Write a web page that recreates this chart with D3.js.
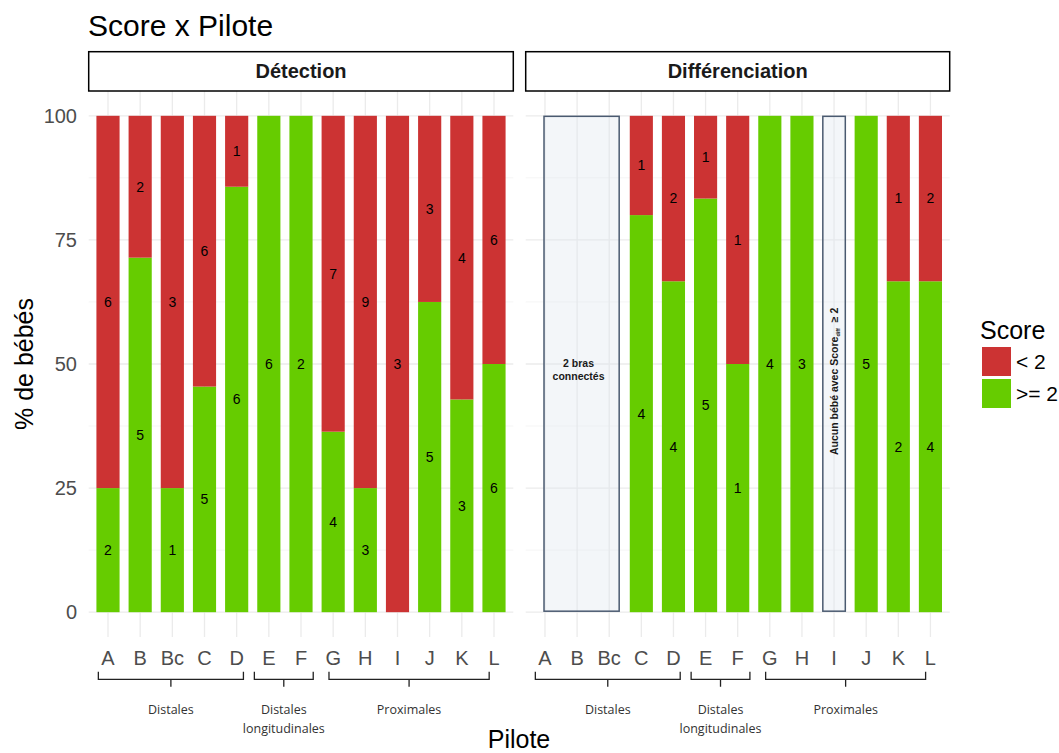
<!DOCTYPE html>
<html><head><meta charset="utf-8">
<script src="https://cdn.jsdelivr.net/npm/d3@7"></script>
<style>body{margin:0;background:#fff}svg{display:block}</style>
</head><body>
<script>
const categories = ["A","B","Bc","C","D","E","F","G","H","I","J","K","L"];
const panels = ["Détection","Différenciation"];
const detLow  = [6,2,3,6,1,0,0,7,9,3,3,4,6];
const detHigh = [2,5,1,5,6,6,2,4,3,0,5,3,6];
const difLow  = [null,null,null,1,2,1,1,0,0,null,0,1,2];
const difHigh = [null,null,null,4,4,5,1,4,3,null,5,2,4];
const scoreLabels = ["< 2", ">= 2"];
const yTicks = [0,25,50,75,100];
const groupNames = [["Distales"],["Distales","longitudinales"],["Proximales"]];
const groupStart = [-0.3, 4.55, 6.87];
const groupEnd   = [4.21, 6.38, 11.85];
const noteTexts = ["2 bras connectés", "Aucun bébé avec Score"];

const W=1059,H=753;
const colLow="#cc3333", colHigh="#66cc00";
const svg=d3.select("body").append("svg").attr("width",W).attr("height",H);
const fontMain="'Liberation Sans', Arial, Helvetica, sans-serif";

const panelX=[[88.7,513.3],[525.7,949.7]];
const pTop=91, pBottom=637;
const y=d3.scaleLinear().domain([-5,105]).range([pBottom,pTop]);

svg.append("text").attr("x",88).attr("y",36).attr("font-family",fontMain)
  .attr("font-size",30).attr("fill","#000").text("Score x Pilote");

const data=[[detLow,detHigh],[difLow,difHigh]];

panels.forEach((pname,pi)=>{
  const [x0,x1]=panelX[pi];
  const step=(x1-x0)/13.2;
  const xc=d3.scaleLinear().domain([-0.6,12.6]).range([x0,x1]);
  const g=svg.append("g");
  [12.5,37.5,62.5,87.5].forEach(v=>{
    g.append("line").attr("x1",x0).attr("x2",x1).attr("y1",y(v)).attr("y2",y(v))
     .attr("stroke","#f3f3f3").attr("stroke-width",0.8);
  });
  yTicks.forEach(v=>{
    g.append("line").attr("x1",x0).attr("x2",x1).attr("y1",y(v)).attr("y2",y(v))
     .attr("stroke","#ebebeb").attr("stroke-width",1.3);
  });
  categories.forEach((c,i)=>{
    g.append("line").attr("x1",xc(i)).attr("x2",xc(i)).attr("y1",pTop).attr("y2",pBottom)
     .attr("stroke","#ebebeb").attr("stroke-width",1.3);
  });
  svg.append("rect").attr("x",x0).attr("y",51.7).attr("width",x1-x0).attr("height",39.3)
    .attr("fill","#fff").attr("stroke","#000").attr("stroke-width",1.5);
  svg.append("text").attr("x",(x0+x1)/2).attr("y",78.3).attr("text-anchor","middle")
    .attr("font-family",fontMain).attr("font-weight","bold").attr("font-size",20).attr("fill","#1a1a1a").text(pname);
  const [low,high]=data[pi];
  const bw=step*0.72;
  categories.forEach((c,i)=>{
    if(low[i]===null) return;
    const n=low[i]+high[i];
    const pH=high[i]/n*100;
    const segs=[{v0:0,v1:pH,cnt:high[i],col:colHigh},{v0:pH,v1:100,cnt:low[i],col:colLow}];
    segs.forEach(s=>{
      if(s.cnt===0) return;
      g.append("rect").attr("x",xc(i)-bw/2).attr("width",bw)
        .attr("y",y(s.v1)).attr("height",y(s.v0)-y(s.v1)).attr("fill",s.col);
    });
    segs.forEach(s=>{
      if(s.cnt===0) return;
      g.append("text").attr("x",xc(i)).attr("y",y((s.v0+s.v1)/2)).attr("dy","0.35em")
        .attr("text-anchor","middle").attr("font-family",fontMain).attr("font-size",14)
        .attr("fill","#000").text(s.cnt);
    });
  });
  categories.forEach((c,i)=>{
    svg.append("text").attr("x",xc(i)).attr("y",665).attr("text-anchor","middle")
      .attr("font-family",fontMain).attr("font-size",20).attr("fill","#4d4d4d").text(c);
  });
  groupNames.forEach((lines,k)=>{
    const a=xc(groupStart[k]), b=xc(groupEnd[k]), m=(a+b)/2;
    svg.append("path").attr("d",`M${a},671.7 V679.3 H${b} V671.7 M${m},679.3 V686.7`)
      .attr("fill","none").attr("stroke","#222").attr("stroke-width",1.3);
    lines.forEach((t,j)=>{
      svg.append("text").attr("x",m).attr("y",713.5+j*19).attr("text-anchor","middle")
        .attr("font-family","'Open Sans', sans-serif").attr("font-size",12.5).attr("fill","#333").text(t);
    });
  });
  if(pi===1){
    const b1a=xc(-0.03), b1b=xc(2.31);
    g.append("rect").attr("x",b1a).attr("y",y(99.9)).attr("width",b1b-b1a).attr("height",y(0.2)-y(99.9))
      .attr("fill","#dde6ee").attr("fill-opacity",0.35).attr("stroke","#4a5a70").attr("stroke-width",1.5);
    const t1=g.append("text").attr("text-anchor","middle").attr("font-family",fontMain)
      .attr("font-weight","bold").attr("font-size",10.5).attr("fill","#1a1a1a");
    const parts=noteTexts[0].split(" ");
    t1.append("tspan").attr("x",(b1a+b1b)/2-3).attr("y",y(50)+3).text(parts[0]+" "+parts[1]);
    t1.append("tspan").attr("x",(b1a+b1b)/2-3).attr("y",y(50)+16).text(parts[2]);
    const b2a=xc(9-0.35), b2b=xc(9+0.35);
    g.append("rect").attr("x",b2a).attr("y",y(99.9)).attr("width",b2b-b2a).attr("height",y(0.2)-y(99.9))
      .attr("fill","#dde6ee").attr("fill-opacity",0.35).attr("stroke","#4a5a70").attr("stroke-width",1.5);
    const cx=xc(9), cy=y(46.5);
    const t2=g.append("text").attr("transform",`translate(${cx+4},${cy}) rotate(-90)`)
      .attr("text-anchor","middle").attr("font-family",fontMain).attr("font-weight","bold")
      .attr("font-size",10.5).attr("fill","#1a1a1a");
    t2.append("tspan").text(noteTexts[1]);
    t2.append("tspan").attr("font-size",5.5).attr("dy",1.5).text("diff");
    t2.append("tspan").attr("font-size",10.5).attr("dy",-1.5).text(" \u00a0≥ 2");
  }
});

yTicks.forEach(v=>{
  svg.append("text").attr("x",77).attr("y",y(v)).attr("dy","0.35em").attr("text-anchor","end")
    .attr("font-family",fontMain).attr("font-size",20).attr("fill","#4d4d4d").text(v);
});
svg.append("text").attr("transform",`translate(33,${(pTop+pBottom)/2}) rotate(-90)`)
  .attr("text-anchor","middle").attr("font-family",fontMain).attr("font-size",25).attr("fill","#000").text("% de bébés");
svg.append("text").attr("x",519).attr("y",748).attr("text-anchor","middle")
  .attr("font-family",fontMain).attr("font-size",25).attr("fill","#000").text("Pilote");

svg.append("text").attr("x",980).attr("y",339).attr("font-family",fontMain).attr("font-size",25).attr("fill","#000").text("Score");
[colLow,colHigh].forEach((c,i)=>{
  svg.append("rect").attr("x",982).attr("y",347+i*32).attr("width",29).attr("height",29).attr("fill",c);
  svg.append("text").attr("x",1016).attr("y",361.5+i*32).attr("dy","0.35em").attr("font-family",fontMain)
    .attr("font-size",21).attr("fill","#000").text(scoreLabels[i]);
});
</script>
</body></html>
